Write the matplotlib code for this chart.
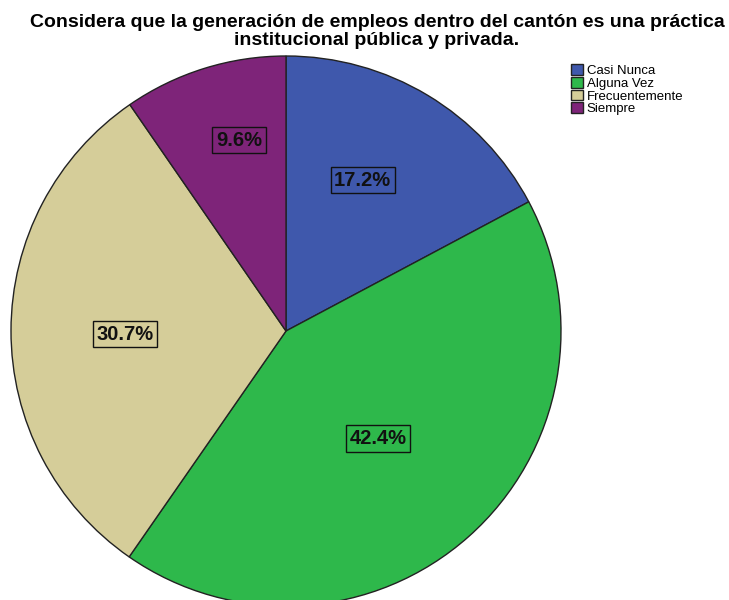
import numpy as np
import matplotlib.pyplot as plt

# Respuestas de la encuesta
categorias = ['Casi Nunca', 'Alguna Vez', 'Frecuentemente', 'Siempre']
porcentajes = [17.2, 42.4, 30.7, 9.6]
colores = ['#3F58AC', '#2EB84B', '#D5CD99', '#7E2479']
titulo = ('Considera que la generación de empleos dentro del cantón es una práctica\n'
          'institucional pública y privada.')

plt.rcParams['font.family'] = ['Liberation Sans', 'DejaVu Sans']

fig = plt.figure(figsize=(7.29, 6.0), dpi=100)
ax = fig.add_axes([11 / 729, -6 / 600, 550 / 729, 550 / 600])

wedges, _ = ax.pie(porcentajes, colors=colores, startangle=90, counterclock=False,
                   radius=1.0, wedgeprops=dict(edgecolor='#222222', linewidth=1.0))
ax.set_xlim(-1, 1)
ax.set_ylim(-1, 1)
ax.axis('off')

# etiquetas de porcentaje dentro de cada sector (radio y giro en grados)
radios_etiqueta = [0.615, 0.515, 0.586, 0.715]
giro_etiqueta = [4.0, -1.0, 1.2, -3.5]
for w, p, r, g, c in zip(wedges, porcentajes, radios_etiqueta, giro_etiqueta, colores):
    ang = np.deg2rad((w.theta1 + w.theta2) / 2 + g)
    ax.text(r * np.cos(ang), r * np.sin(ang), f'{p:.1f}%', ha='center', va='center',
            fontsize=14.5, fontweight='bold', color='#111111',
            bbox=dict(boxstyle='square,pad=0.18', facecolor=c, edgecolor='#111111', linewidth=1.0))

fig.text(377 / 729, 1 - 14 / 600, titulo, ha='center', va='top', fontsize=14, fontweight='bold',
         linespacing=1.1)

leg = fig.legend(wedges, categorias, loc='upper left', bbox_to_anchor=(571 / 729, 1 - 64 / 600),
                 frameon=False, fontsize=9.5, handlelength=0.9, handleheight=0.9,
                 handletextpad=0.3, labelspacing=-0.02, borderpad=0, borderaxespad=0)

fig.savefig('out.png', dpi=100)
